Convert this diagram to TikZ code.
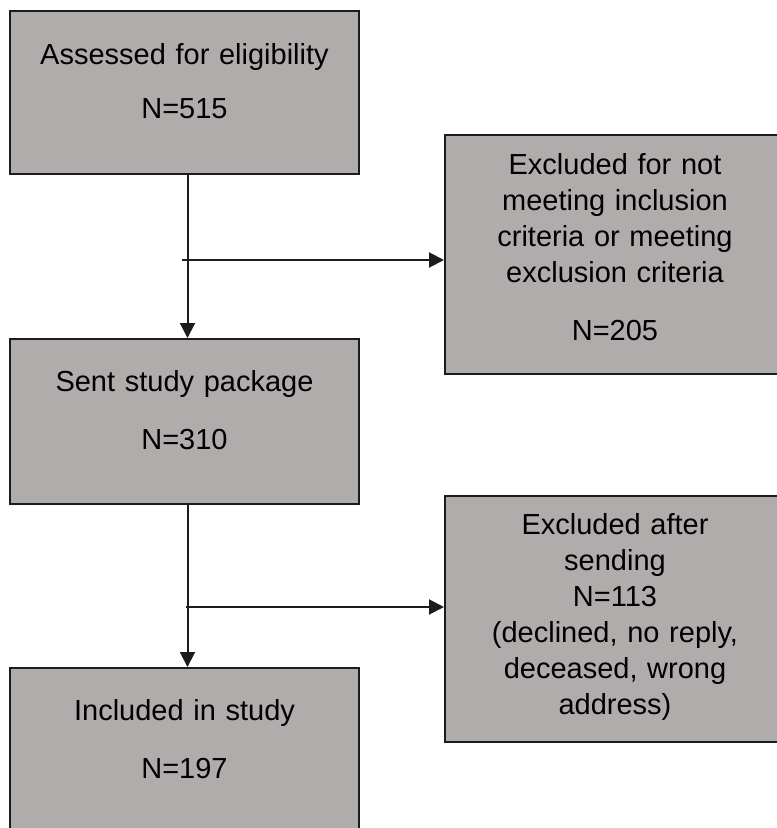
\documentclass[tikz,border=0pt]{standalone}
\usepackage{fontspec}
\setmainfont{Liberation Sans}
\usetikzlibrary{arrows.meta,positioning}

\definecolor{boxgray}{RGB}{176,172,171}
\definecolor{inkdark}{RGB}{28,28,28}

\begin{document}
\begin{tikzpicture}[x=1pt, y=-1pt, >={Triangle[length=15pt,width=15pt]},
  font=\fontsize{29}{36}\selectfont]

\tikzset{
  stagebox/.style={draw=inkdark, line width=2pt, fill=boxgray, inner sep=0pt,
    align=center, anchor=north west},
  leftbox/.style={stagebox, text width=349pt},
  rightbox/.style={stagebox, text width=340pt},
  flow/.style={->, draw=inkdark, line width=2pt}
}

\useasboundingbox (0,0) rectangle (777,828);

% Main column
\node[leftbox, text height=53pt, text depth=110pt] (elig) at (9,10)
  {Assessed for eligibility\\[18pt]N=515};
\node[leftbox, text height=52pt, text depth=113pt] (sent) at (9,338)
  {Sent study package\\[22pt]N=310};
\node[leftbox, text height=52pt, text depth=113pt] (incl) at (9,667)
  {Included in study\\[22pt]N=197};

% Exclusions
\node[rightbox, text height=39pt, text depth=200pt] (notmet) at (444,134)
  {Excluded for not\\meeting inclusion\\criteria or meeting\\exclusion criteria\\[22pt]N=205};
\node[rightbox, text height=38pt, text depth=208pt] (after) at (444,495)
  {Excluded after\\sending\\N=113\\(declined, no reply,\\deceased, wrong\\address)};

% Arrows
\coordinate (split1) at (182,260);
\coordinate (split2) at (186,607);
\draw[flow] ([xshift=3pt]elig.south) -- ([xshift=3pt]sent.north);
\draw[flow] ([xshift=3pt]sent.south) -- ([xshift=3pt]incl.north);
\draw[flow] (split1) -- (split1 -| notmet.west);
\draw[flow] (split2) -- (split2 -| after.west);

\end{tikzpicture}
\end{document}
